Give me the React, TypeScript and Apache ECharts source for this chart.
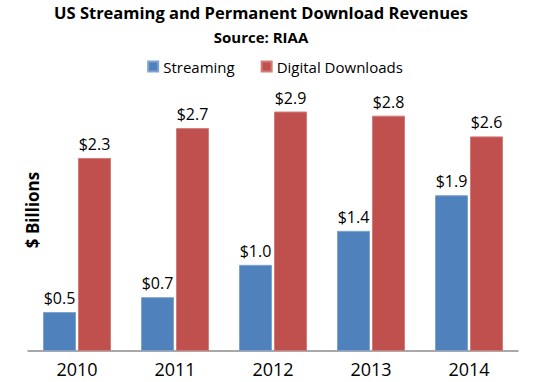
import React, { useEffect, useRef } from "react";
import * as echarts from "echarts";

const years = ["2010", "2011", "2012", "2013", "2014"];
const streaming = [0.47, 0.65, 1.04, 1.45, 1.88];
const downloads = [2.33, 2.69, 2.89, 2.84, 2.59];

const FONT = "'Open Sans', 'Liberation Sans', sans-serif";

export default function App() {
  const ref = useRef<HTMLDivElement>(null);
  useEffect(() => {
    if (!ref.current) return;
    const chart = echarts.init(ref.current, undefined, { renderer: "svg" });
    const label = {
      show: true,
      position: "top",
      distance: 6,
      fontFamily: FONT,
      fontSize: 16,
      color: "#000",
      formatter: (p: any) => "$" + Number(p.value).toFixed(1),
    };
    chart.setOption({
      animation: false,
      backgroundColor: "#fff",
      title: [
        {
          text: "US Streaming and Permanent Download Revenues",
          left: 256,
          top: -1,
          textAlign: "center",
          textStyle: { fontFamily: FONT, fontWeight: "bold", fontSize: 16.5, color: "#000" },
        },
        {
          text: "Source: RIAA",
          left: 256,
          top: 24,
          textAlign: "center",
          textStyle: { fontFamily: FONT, fontWeight: "bold", fontSize: 15, color: "#000" },
        },
      ],
      legend: {
        top: 54,
        left: "center",
        itemWidth: 10,
        itemHeight: 10,
        itemGap: 26,
        icon: "rect",
        textStyle: { fontFamily: FONT, fontSize: 15, color: "#000", padding: [0, 0, 0, 0] },
        data: ["Streaming", "Digital Downloads"],
      },
      grid: { left: 28, right: 32, top: 61, bottom: 31 },
      xAxis: {
        type: "category",
        data: years,
        axisLine: { lineStyle: { color: "#8c8c8c", width: 1.5 } },
        axisTick: { show: false },
        axisLabel: { fontFamily: FONT, fontSize: 18, color: "#000", margin: 9 },
      },
      yAxis: {
        type: "value",
        min: 0,
        max: 3.5,
        show: false,
        splitLine: { show: false },
      },
      graphic: [
        {
          type: "text",
          x: 32,
          y: 210,
          rotation: Math.PI / 2,
          style: {
            text: "$ Billions",
            fontFamily: FONT,
            fontWeight: "bold",
            fontSize: 17,
            fill: "#000",
            textAlign: "center",
            textVerticalAlign: "middle",
          },
        },
      ],
      series: [
        {
          name: "Streaming",
          type: "bar",
          data: streaming,
          barWidth: 33,
          barGap: "6%",
          itemStyle: { color: "#4F81BD", borderColor: "#7ea3d1", borderWidth: 1 },
          label,
        },
        {
          name: "Digital Downloads",
          type: "bar",
          data: downloads,
          barWidth: 33,
          barGap: "6%",
          itemStyle: { color: "#C0504D", borderColor: "#d27c7a", borderWidth: 1 },
          label,
        },
      ],
    });
    return () => chart.dispose();
  }, []);
  return (
    <div
      ref={ref}
      style={{ position: "fixed", left: 0, top: 0, width: 550, height: 382 }}
    />
  );
}
